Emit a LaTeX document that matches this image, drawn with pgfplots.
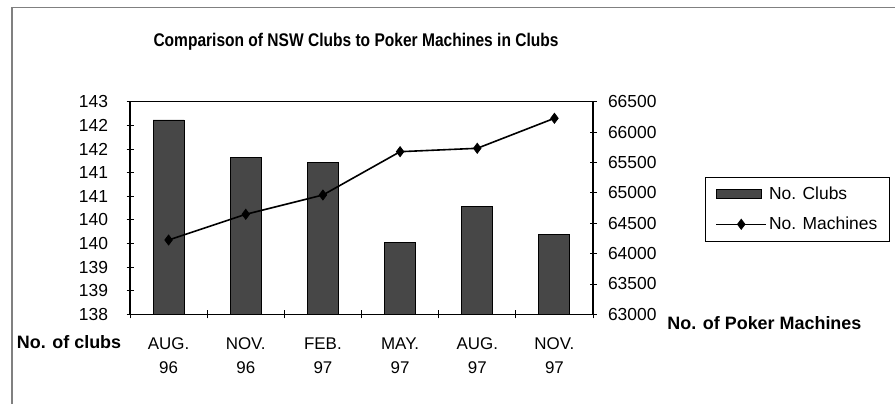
\documentclass[border=0pt]{standalone}
\usepackage{pgfplots}
\pgfplotsset{compat=1.18}
\usepackage{fontspec}
\setmainfont{Liberation Sans}
\definecolor{barcol}{HTML}{474747}
\definecolor{framecol}{HTML}{808080}
\pgfplotsset{
  mylinelegend/.style={legend image code/.code={\draw[mark repeat=2,mark phase=2,##1] plot coordinates {(0bp,0bp)(25bp,0bp)(50bp,0bp)};}},
  mybarlegend/.style={legend image code/.code={\draw[fill=barcol,draw=black,line width=0.8bp] (0bp,-4.5bp) rectangle (45bp,4.5bp);}},
}
\begin{document}
\begin{tikzpicture}[x=1bp,y=1bp]
\useasboundingbox (0,0) rectangle (895,404);
\draw[framecol, line width=1.5bp] (12,0) -- (12,396.5) -- (895,396.5);
\begin{axis}[
  at={(130bp,89.7bp)}, anchor=south west,
  width=463bp, height=212.6bp, scale only axis,
  xmin=-0.5, xmax=5.5,
  ymin=138, ymax=143,
  axis y line*=left, axis x line*=box,
  xtick pos=bottom,
  xtick={0,1,2,3,4,5},
  xticklabels={{\strut AUG.\\96},{\strut NOV.\\96},{\strut FEB.\\97},{\strut MAY.\\97},{\strut AUG.\\97},{\strut NOV.\\97}},
  major x tick style={draw=none},
  minor xtick={-0.5,0.5,1.5,2.5,3.5,4.5,5.5},
  minor tick length=8bp,
  xticklabel style={align=center, anchor=north, font=\fontsize{17}{23.5}\selectfont, yshift=-12bp},
  ytick={138,138.5556,139.1111,139.6667,140.2222,140.7778,141.3333,141.8889,142.4444,143},
  yticklabels={138,139,139,140,140,141,141,142,142,143},
  yticklabel style={font=\fontsize{17.5}{18}\selectfont, xshift=-15bp},
  tick align=center,
  major tick length=7bp,
  tick style={black, line width=0.8bp},
  axis line style={black, line width=1.3bp},
  /pgf/number format/assume math mode=true,
  clip=false,
]
\addplot[ybar, bar width=31bp, fill=barcol, draw=black, line width=0.9bp]
  coordinates {(0,142.57) (1,141.68) (2,141.56) (3,139.70) (4,140.53) (5,139.87)};
\end{axis}
\begin{axis}[
  at={(130bp,89.7bp)}, anchor=south west,
  width=463bp, height=212.6bp, scale only axis,
  xmin=-0.5, xmax=5.5,
  ymin=63000, ymax=66500,
  axis y line*=right, axis x line=none,
  ytick={63000,63500,64000,64500,65000,65500,66000,66500},
  yticklabel style={font=\fontsize{17.5}{18}\selectfont, xshift=8bp,
    /pgf/number format/.cd, set thousands separator={}, fixed},
  tick align=center,
  major tick length=7bp,
  tick style={black, line width=0.8bp},
  axis line style={black, line width=1.3bp},
  /pgf/number format/assume math mode=true,
  scaled y ticks=false,
  legend style={at={(1.242,0.647)}, anchor=north west, draw=black, line width=0.8bp,
    font=\fontsize{17.5}{19}\selectfont, inner xsep=10bp, inner ysep=8bp,
    row sep=12bp, cells={anchor=west}},
  clip=false,
]
\addlegendimage{mybarlegend}
\addlegendentry{No. Clubs}
\addplot[black, line width=1.6bp, mark=diamond*, mark size=5bp, mark options={fill=black, line width=0.8bp}, mylinelegend]
  coordinates {(0,64223) (1,64646) (2,64964) (3,65677) (4,65733) (5,66227)};
\addlegendentry{No. Machines}
\end{axis}
\node[font=\bfseries\fontsize{15.6}{18}\selectfont] at (356,362.3) {\scalebox{1}[1.18]{Comparison of NSW Clubs to Poker Machines in Clubs}};
\node[font=\bfseries\fontsize{18}{20}\selectfont] at (69,62.3) {No. of clubs};
\node[font=\bfseries\fontsize{18}{20}\selectfont] at (764.4,81.3) {No. of Poker Machines};
\end{tikzpicture}
\end{document}
